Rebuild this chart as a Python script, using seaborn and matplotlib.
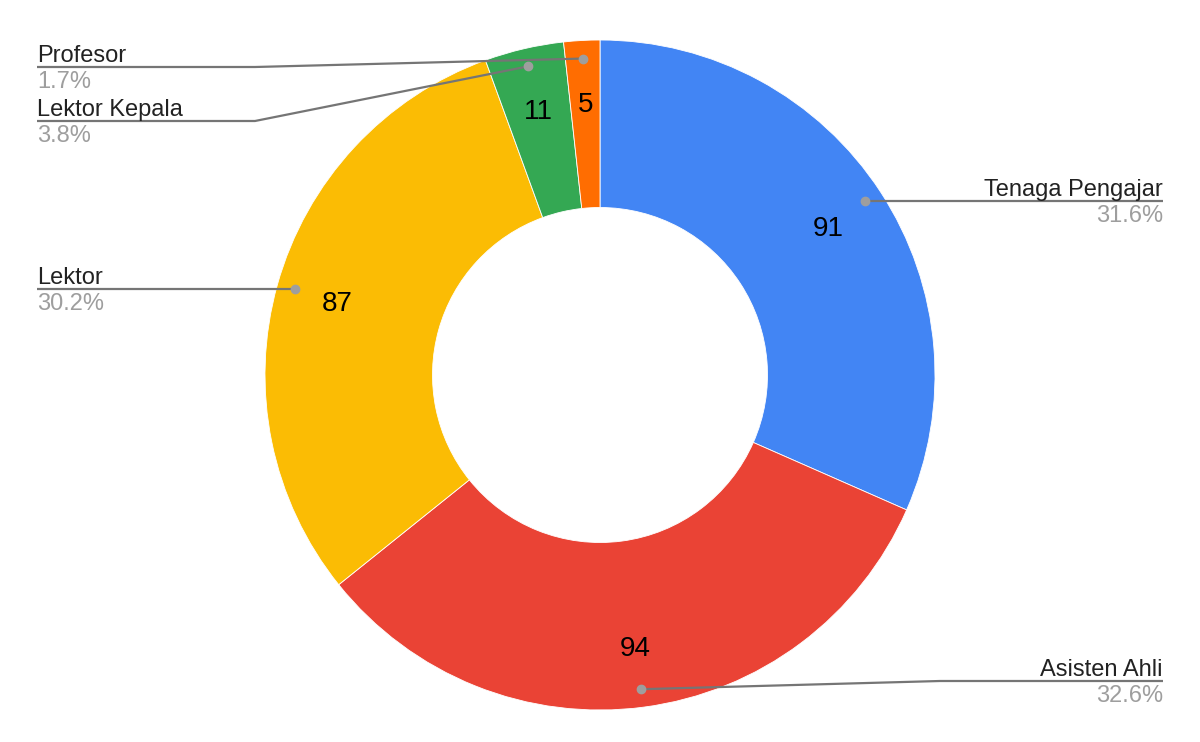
"""
Donut chart: jumlah tenaga pengajar per jabatan fungsional
"""
import numpy as np
import matplotlib
matplotlib.use('Agg')
import matplotlib.pyplot as plt
import seaborn as sns

# Data
categories = ['Tenaga Pengajar', 'Asisten Ahli', 'Lektor', 'Lektor Kepala', 'Profesor']
values = [91, 94, 87, 11, 5]
colors = ['#4285F4', '#EA4335', '#FBBC04', '#34A853', '#FF6D01']

W, H = 1200, 742


def py(y):
    """pixel row (top origin) -> data y"""
    return H - y


# Layout of the outside labels: (side, y of underline in px, knee x, knee y)
label_layout = {
    'Tenaga Pengajar': ('right', 201, None, None),
    'Asisten Ahli': ('right', 681, 940, 681),
    'Lektor': ('left', 289, None, None),
    'Lektor Kepala': ('left', 121, 255, 121),
    'Profesor': ('left', 67, 255, 67),
}


def main():
    sns.set_theme(style='white')
    plt.rcParams['font.family'] = ['Liberation Sans', 'DejaVu Sans']

    fig = plt.figure(figsize=(12, 7.42), dpi=100)
    ax = fig.add_axes([0, 0, 1, 1])

    cx, cy, r = 600, py(375), 335
    total = sum(values)

    wedges, _, autotexts = ax.pie(
        values,
        colors=colors,
        radius=r,
        center=(cx, cy),
        startangle=90,
        counterclock=False,
        wedgeprops=dict(width=r * 0.5, edgecolor='white', linewidth=0.6),
        autopct=lambda p: f'{int(round(p * total / 100))}',
        pctdistance=0.815,
        textprops=dict(fontsize=20, color='black'),
        frame=True,
    )
    for t in autotexts:
        t.set_va('center_baseline')
    ax.set_xlim(0, W)
    ax.set_ylim(0, H)
    ax.axis('off')

    # Leader lines and outside labels
    for w, name, val in zip(wedges, categories, values):
        mid = np.deg2rad((w.theta1 + w.theta2) / 2)
        dx, dy = cx + 0.946 * r * np.cos(mid), cy + 0.946 * r * np.sin(mid)
        side, ly, kx, ky = label_layout[name]
        ly = py(ly)
        end_x = 1163 if side == 'right' else 37
        xs, ys = [dx], [dy]
        if kx is not None:
            xs.append(kx)
            ys.append(py(ky))
        else:
            ys[0] = ly
            dy = ly
        xs.append(end_x)
        ys.append(ly)
        ax.plot(xs, ys, color='#757575', lw=1.6, solid_capstyle='butt', zorder=3)
        ax.plot(dx, dy, 'o', color='#9e9e9e', ms=6, zorder=4)

        ha = 'right' if side == 'right' else 'left'
        ax.text(end_x, ly + 5, name, ha=ha, va='baseline', fontsize=17, color='#222222')
        ax.text(end_x, ly - 4, f'{val / total * 100:.1f}%', ha=ha, va='top',
                fontsize=17, color='#9e9e9e')

    fig.savefig('out.png', dpi=100)


if __name__ == '__main__':
    main()
